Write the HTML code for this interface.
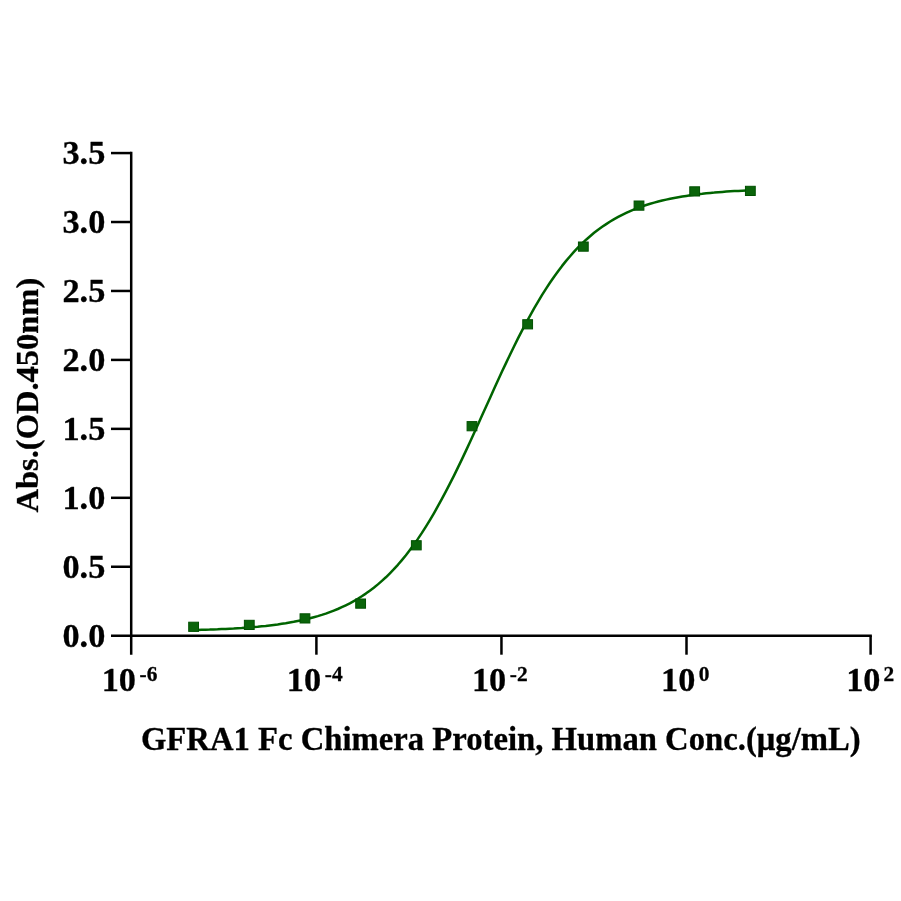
<!DOCTYPE html>
<html lang="en"><head><meta charset="utf-8"><title>GFRA1 Fc Chimera Protein, Human - ELISA binding curve</title>
<style>
html,body{margin:0;padding:0;background:#fff;}
body{width:901px;height:901px;overflow:hidden;}
svg{display:block;}
text{font-family:"Liberation Serif","Times New Roman",serif;font-weight:bold;fill:#000;stroke:#000;stroke-width:0.3px;stroke-linejoin:round;}
.t{font-size:34.3px;}
.s{font-size:21.4px;}
.l{font-size:32.7px;}
.y{font-size:32.5px;}
.ax{stroke:#000;stroke-width:2.5;fill:none;stroke-linecap:butt;}
.m{fill:#0a640a;stroke:#005000;stroke-width:1;}
.c{stroke:#006400;stroke-width:2.5;fill:none;stroke-linejoin:round;}
</style></head><body>
<svg width="901" height="901" viewBox="0 0 901 901">
<rect width="901" height="901" fill="#fff"/>
<path class="ax" d="M131.2,151.82 V654.7"/>
<path class="ax" d="M111,635.7 H871.85"/>
<path class="ax" d="M111,566.75 H131.2"/>
<path class="ax" d="M111,497.81 H131.2"/>
<path class="ax" d="M111,428.86 H131.2"/>
<path class="ax" d="M111,359.91 H131.2"/>
<path class="ax" d="M111,290.96 H131.2"/>
<path class="ax" d="M111,222.02 H131.2"/>
<path class="ax" d="M111,153.07 H131.2"/>
<path class="ax" d="M316.40,635.7 V654.7"/>
<path class="ax" d="M501.45,635.7 V654.7"/>
<path class="ax" d="M686.50,635.7 V654.7"/>
<path class="ax" d="M870.60,635.7 V654.7"/>
<text class="t" x="105.3" y="646.70" text-anchor="end">0.0</text>
<text class="t" x="105.3" y="577.75" text-anchor="end">0.5</text>
<text class="t" x="105.3" y="508.81" text-anchor="end">1.0</text>
<text class="t" x="105.3" y="439.86" text-anchor="end">1.5</text>
<text class="t" x="105.3" y="370.91" text-anchor="end">2.0</text>
<text class="t" x="105.3" y="301.96" text-anchor="end">2.5</text>
<text class="t" x="105.3" y="233.02" text-anchor="end">3.0</text>
<text class="t" x="105.3" y="164.07" text-anchor="end">3.5</text>
<text class="t" x="101.65" y="691.3">10</text>
<text class="s" x="139.60" y="680.9">-6</text>
<text class="t" x="286.85" y="691.3">10</text>
<text class="s" x="324.80" y="680.9">-4</text>
<text class="t" x="471.90" y="691.3">10</text>
<text class="s" x="509.85" y="680.9">-2</text>
<text class="t" x="661.10" y="691.3">10</text>
<text class="s" x="698.75" y="680.9">0</text>
<text class="t" x="846.15" y="691.3">10</text>
<text class="s" x="883.40" y="680.9">2</text>
<text class="l" x="500.8" y="749.5" text-anchor="middle">GFRA1 Fc Chimera Protein, Human Conc.(μg/mL)</text>
<text class="y" transform="translate(37.6,395.1) rotate(-90)" text-anchor="middle">Abs.(OD.450nm)</text>
<path class="c" d="M193.6,630.1 L197.6,630.0 L201.6,629.8 L205.6,629.7 L209.6,629.6 L213.6,629.4 L217.6,629.3 L221.6,629.1 L225.6,628.9 L229.7,628.7 L233.7,628.5 L237.7,628.2 L241.7,628.0 L245.7,627.7 L249.7,627.4 L253.7,627.0 L257.7,626.7 L261.7,626.3 L265.7,625.9 L269.7,625.4 L273.7,624.9 L277.7,624.4 L281.7,623.8 L285.7,623.2 L289.7,622.5 L293.7,621.8 L297.7,621.0 L301.8,620.2 L305.8,619.3 L309.8,618.3 L313.8,617.2 L317.8,616.1 L321.8,614.9 L325.8,613.6 L329.8,612.1 L333.8,610.6 L337.8,609.0 L341.8,607.2 L345.8,605.3 L349.8,603.3 L353.8,601.1 L357.8,598.8 L361.8,596.3 L365.8,593.6 L369.8,590.7 L373.8,587.7 L377.9,584.4 L381.9,580.9 L385.9,577.3 L389.9,573.3 L393.9,569.2 L397.9,564.8 L401.9,560.1 L405.9,555.2 L409.9,550.0 L413.9,544.6 L417.9,538.9 L421.9,532.9 L425.9,526.6 L429.9,520.1 L433.9,513.3 L437.9,506.2 L441.9,498.9 L445.9,491.3 L449.9,483.6 L454.0,475.6 L458.0,467.4 L462.0,459.1 L466.0,450.6 L470.0,441.9 L474.0,433.2 L478.0,424.4 L482.0,415.6 L486.0,406.7 L490.0,397.9 L494.0,389.0 L498.0,380.3 L502.0,371.6 L506.0,363.1 L510.0,354.7 L514.0,346.5 L518.0,338.4 L522.0,330.6 L526.0,323.0 L530.1,315.6 L534.1,308.4 L538.1,301.6 L542.1,294.9 L546.1,288.6 L550.1,282.5 L554.1,276.7 L558.1,271.2 L562.1,265.9 L566.1,260.9 L570.1,256.2 L574.1,251.7 L578.1,247.4 L582.1,243.5 L586.1,239.7 L590.1,236.2 L594.1,232.8 L598.1,229.7 L602.2,226.8 L606.2,224.1 L610.2,221.5 L614.2,219.1 L618.2,216.9 L622.2,214.8 L626.2,212.9 L630.2,211.1 L634.2,209.4 L638.2,207.8 L642.2,206.4 L646.2,205.0 L650.2,203.8 L654.2,202.6 L658.2,201.5 L662.2,200.5 L666.2,199.6 L670.2,198.7 L674.2,197.9 L678.3,197.2 L682.3,196.5 L686.3,195.9 L690.3,195.3 L694.3,194.7 L698.3,194.2 L702.3,193.8 L706.3,193.3 L710.3,192.9 L714.3,192.6 L718.3,192.2 L722.3,191.9 L726.3,191.6 L730.3,191.3 L734.3,191.1 L738.3,190.9 L742.3,190.7 L746.3,190.5 L750.3,190.3"/>
<rect class="m" x="745.45" y="186.30" width="9.8" height="9.2"/>
<rect class="m" x="689.77" y="186.80" width="9.8" height="9.2"/>
<rect class="m" x="634.10" y="201.00" width="9.8" height="9.2"/>
<rect class="m" x="578.43" y="242.00" width="9.8" height="9.2"/>
<rect class="m" x="522.75" y="319.70" width="9.8" height="9.2"/>
<rect class="m" x="467.08" y="421.60" width="9.8" height="9.2"/>
<rect class="m" x="411.40" y="540.70" width="9.8" height="9.2"/>
<rect class="m" x="355.73" y="599.00" width="9.8" height="9.2"/>
<rect class="m" x="300.06" y="613.80" width="9.8" height="9.2"/>
<rect class="m" x="244.38" y="620.30" width="9.8" height="9.2"/>
<rect class="m" x="188.71" y="622.20" width="9.8" height="9.2"/>
</svg></body></html>
